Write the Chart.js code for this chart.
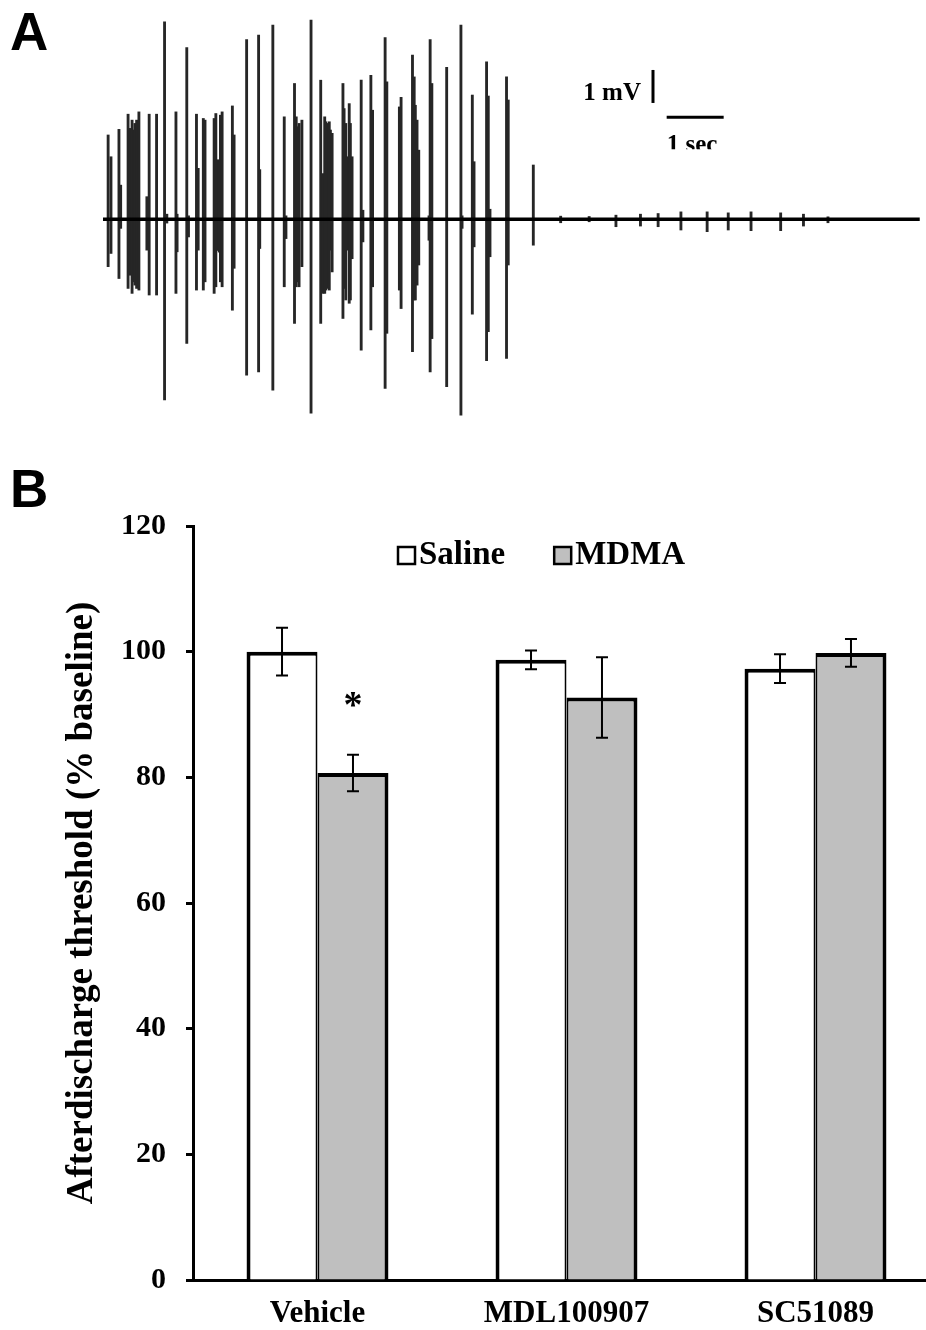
<!DOCTYPE html>
<html>
<head>
<meta charset="utf-8">
<script src="https://cdn.jsdelivr.net/npm/chart.js@4/dist/chart.umd.min.js"></script>
<style>
  html, body { margin: 0; padding: 0; background: #fff; overflow: hidden; }
  #page { position: relative; width: 926px; height: 1330px; overflow: hidden; }
  .letter { position: absolute; left: 10px; font: bold 53px "Liberation Sans", Arial, sans-serif; line-height: 53px; color: #000; }
  #traceA { position: absolute; left: 103px; top: 0; }
  #barsB { position: absolute; left: 0; top: 440px; }
</style>
</head>
<body>
<div id="page">
  <div class="letter" style="top:5px">A</div>
  <div class="letter" style="top:462px">B</div>
  <canvas id="traceA" width="823" height="430"></canvas>
  <canvas id="barsB" width="945" height="890"></canvas>
</div>
<script>
// ---- panel A : afterdischarge trace (time in s, amplitude in mV) ----
const spikeTime = [
  0.09,0.14,0.28,0.31,0.44,0.47,0.51,0.54,0.56,0.59,
  0.63,0.77,0.81,0.94,1.08,1.12,1.28,1.30,1.47,1.50,
  1.64,1.67,1.76,1.79,1.95,1.98,2.01,2.04,2.06,2.09,
  2.27,2.30,2.52,2.73,2.75,2.98,3.18,3.21,3.36,3.39,
  3.41,3.44,3.49,3.65,3.82,3.86,3.89,3.91,3.94,3.97,
  3.99,4.02,4.21,4.23,4.26,4.29,4.32,4.34,4.37,4.53,
  4.56,4.70,4.73,4.95,4.98,5.20,5.23,5.43,5.46,5.48,
  5.51,5.54,5.72,5.74,5.77,6.03,6.28,6.30,6.48,6.51,
  6.73,6.76,6.79,7.08,7.11,7.55,8.03,8.53,9.00,9.43,
  9.74,10.14,10.60,10.97,11.37,11.89,12.29,12.72
];
const spikeUp = [
  2.55,1.89,2.72,1.03,3.18,2.75,3.00,2.70,2.90,3.00,
  3.25,0.68,3.18,3.18,5.98,0.15,3.25,0.15,5.20,0.10,
  3.18,1.54,3.05,3.00,3.05,3.20,1.80,1.75,3.15,3.25,
  3.43,2.55,5.44,5.58,1.50,5.88,3.10,0.10,4.11,3.10,
  2.80,2.90,3.00,6.03,4.21,1.38,3.10,2.95,2.90,2.95,
  2.70,2.60,4.11,3.35,2.90,1.89,3.50,2.90,1.89,4.21,
  0.27,4.36,3.30,5.50,4.16,3.40,3.69,4.97,4.31,3.45,
  3.00,2.09,0.10,5.44,4.11,4.60,5.88,0.10,3.76,1.74,
  4.77,3.73,0.30,4.31,3.61,1.64,0.09,0.08,0.12,0.15,
  0.17,0.22,0.22,0.19,0.22,0.19,0.15,0.07
];
const spikeDown = [
  -1.44,-1.04,-1.80,-0.28,-2.10,-1.70,-2.25,-1.90,-2.00,-2.10,
  -2.15,-0.94,-2.30,-2.30,-5.48,-0.12,-2.25,-0.99,-3.77,-0.54,
  -2.15,-0.94,-2.15,-1.90,-2.25,-2.05,-0.95,-1.00,-1.90,-2.05,
  -2.76,-1.49,-4.73,-4.63,-0.89,-5.18,-2.05,-0.59,-3.16,-2.05,
  -1.90,-2.05,-1.44,-5.88,-3.16,-2.25,-2.25,-2.15,-2.10,-2.15,
  -0.94,-1.60,-3.01,-2.10,-2.45,-0.94,-2.55,-2.45,-1.20,-3.97,
  -0.69,-3.36,-2.05,-5.13,-3.46,-2.15,-2.71,-4.02,-2.45,-2.45,
  -2.00,-1.39,-0.64,-4.63,-3.62,-5.08,-5.94,-0.28,-2.88,-0.84,
  -4.29,-3.41,-1.14,-4.22,-1.39,-0.79,-0.11,-0.08,-0.23,-0.21,
  -0.23,-0.33,-0.38,-0.33,-0.35,-0.35,-0.21,-0.11
];
const baselineTime = [0, 14.33];
const baselineMv = [0, 0];
// calibration bars: 1 mV and 1 sec
const calMv = 1;
const calSec = 1;

// ---- panel B : afterdischarge threshold ----
const groups = ['Vehicle', 'MDL100907', 'SC51089'];
const salineMean = [100, 98.7, 97.3];
const salineErr = [3.8, 1.5, 2.3];
const mdmaMean = [80.7, 92.7, 99.8];
const mdmaErr = [2.9, 6.4, 2.2];
const mdmaSig = ['*', '', ''];
const yTicks = [0, 20, 40, 60, 80, 100, 120];

const serif = '"Liberation Serif", "Times New Roman", serif';

// calibration bars + labels drawn from the trace scales
const calibPlugin = {
  id: 'calib',
  afterDraw(chart) {
    const ctx = chart.ctx;
    const x = chart.scales.x, y = chart.scales.y;
    ctx.save();
    ctx.strokeStyle = '#000';
    ctx.lineWidth = 3;
    // vertical 1 mV bar
    const vx = x.getPixelForValue(9.65);
    const vy0 = y.getPixelForValue(3.52), vy1 = y.getPixelForValue(3.52 + calMv);
    ctx.beginPath(); ctx.moveTo(vx, vy0); ctx.lineTo(vx, vy1); ctx.stroke();
    // horizontal 1 sec bar
    const hx0 = x.getPixelForValue(9.89), hx1 = x.getPixelForValue(9.89 + calSec);
    const hy = y.getPixelForValue(3.09);
    ctx.beginPath(); ctx.moveTo(hx0, hy); ctx.lineTo(hx1, hy); ctx.stroke();

    ctx.fillStyle = '#000';
    ctx.font = 'bold 25px ' + serif;
    ctx.textAlign = 'right';
    ctx.textBaseline = 'alphabetic';
    ctx.fillText(calMv + ' mV', vx - 12, vy0 - 3);
    // the "1 sec" label is cut at its bottom in the figure
    ctx.beginPath(); ctx.rect(hx0 - 5, hy + 5, 80, 27); ctx.clip();
    ctx.textAlign = 'left';
    ctx.fillText(calSec + ' sec', hx0, hy + 35);
    ctx.restore();
  }
};

new Chart(document.getElementById('traceA').getContext('2d'), {
  type: 'bar',
  data: {
    datasets: [{
      type: 'line',
      data: baselineTime.map((t, i) => ({x: t, y: baselineMv[i]})),
      borderColor: '#000',
      borderWidth: 3.5,
      pointRadius: 0
    }, {
      data: spikeTime.map((t, i) => ({x: t, y: [spikeDown[i], spikeUp[i]]})),
      backgroundColor: '#262626',
      borderWidth: 0,
      barThickness: 2.2
    }]
  },
  options: {
    responsive: false,
    animation: false,
    devicePixelRatio: 1,
    layout: { padding: 0 },
    plugins: { legend: { display: false }, tooltip: { enabled: false } },
    scales: {
      x: { type: 'linear', min: 0, max: 14.44, offset: false, display: false },
      y: { min: -6.39, max: 6.64, display: false }
    }
  },
  plugins: [calibPlugin]
});

// legend boxes, error bars and significance marks
const barExtras = {
  id: 'barExtras',
  afterDatasetsDraw(chart) {
    const ctx = chart.ctx, y = chart.scales.y;
    ctx.save();
    ctx.strokeStyle = '#000';
    ctx.lineWidth = 2;
    chart.data.datasets.forEach((ds, di) => {
      chart.getDatasetMeta(di).data.forEach((bar, i) => {
        const top = y.getPixelForValue(ds.data[i] + ds.errors[i]);
        const bot = y.getPixelForValue(ds.data[i] - ds.errors[i]);
        ctx.beginPath();
        ctx.moveTo(bar.x, top); ctx.lineTo(bar.x, bot);
        ctx.moveTo(bar.x - 6, top); ctx.lineTo(bar.x + 6, top);
        ctx.moveTo(bar.x - 6, bot); ctx.lineTo(bar.x + 6, bot);
        ctx.stroke();
        if (ds.sig && ds.sig[i]) {
          ctx.fillStyle = '#000';
          ctx.font = 'bold 38px ' + serif;
          ctx.textAlign = 'center';
          ctx.textBaseline = 'alphabetic';
          ctx.fillText(ds.sig[i], bar.x, top - 38);
        }
      });
    });
    ctx.restore();
  },
  afterDraw(chart) {
    const {ctx, chartArea} = chart;
    ctx.save();
    ctx.font = 'bold 33px ' + serif;
    ctx.textBaseline = 'middle';
    ctx.textAlign = 'left';
    let x = chartArea.left + 205;
    const yMid = chartArea.top + 29;
    chart.data.datasets.forEach(ds => {
      ctx.fillStyle = ds.backgroundColor;
      ctx.fillRect(x, yMid - 8, 17, 17);
      ctx.strokeStyle = '#000';
      ctx.lineWidth = 2.5;
      ctx.strokeRect(x, yMid - 8, 17, 17);
      ctx.fillStyle = '#000';
      ctx.fillText(ds.label, x + 21, yMid);
      x += 21 + ctx.measureText(ds.label).width + 49;
    });
    ctx.restore();
  }
};

new Chart(document.getElementById('barsB').getContext('2d'), {
  type: 'bar',
  data: {
    labels: groups,
    datasets: [{
      label: 'Saline',
      data: salineMean,
      errors: salineErr,
      backgroundColor: '#ffffff',
      borderColor: '#000',
      borderWidth: {top: 4, left: 4, right: 2, bottom: 0},
      borderSkipped: false
    }, {
      label: 'MDMA',
      data: mdmaMean,
      errors: mdmaErr,
      sig: mdmaSig,
      backgroundColor: '#bfbfbf',
      borderColor: '#000',
      borderWidth: {top: 4, left: 2, right: 4, bottom: 0},
      borderSkipped: false
    }]
  },
  options: {
    responsive: false,
    animation: false,
    devicePixelRatio: 1,
    categoryPercentage: 0.57,
    barPercentage: 1.0,
    layout: { padding: { left: 60, top: 86, right: 5, bottom: 0 } },
    plugins: { legend: { display: false }, tooltip: { enabled: false } },
    scales: {
      x: {
        grid: { drawOnChartArea: false, drawTicks: false },
        border: { color: '#000', width: 3 },
        ticks: { color: '#000', padding: 15, font: { family: serif, weight: 'bold', size: 31 } },
        afterFit(scale) { scale.height = 50; }
      },
      y: {
        min: 0,
        max: 120,
        afterBuildTicks(scale) { scale.ticks = yTicks.map(v => ({value: v})); },
        grid: { drawOnChartArea: false, drawTicks: true, tickLength: 7, tickWidth: 3, tickColor: '#000' },
        border: { color: '#000', width: 3 },
        ticks: { color: '#000', padding: 20, font: { family: serif, weight: 'bold', size: 30 } },
        title: {
          display: true,
          text: 'Afterdischarge threshold (% baseline)',
          color: '#000',
          padding: { top: 0, bottom: 0 },
          font: { family: serif, weight: 'bold', size: 37 }
        },
        afterFit(scale) { scale.width = 133; }
      }
    }
  },
  plugins: [barExtras]
});
</script>
</body>
</html>
